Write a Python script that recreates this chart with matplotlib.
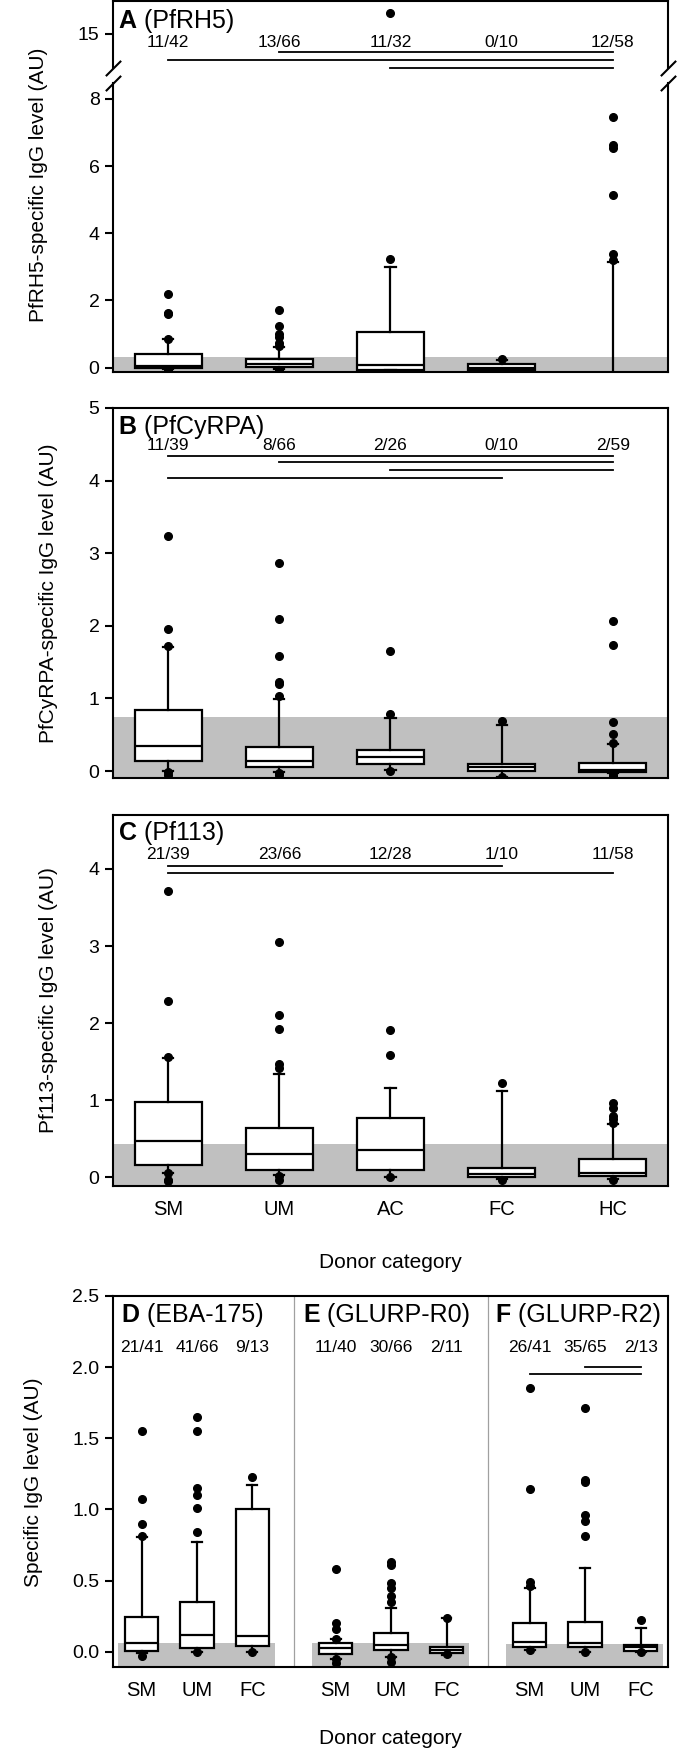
import matplotlib
matplotlib.use('Agg')
import matplotlib.pyplot as plt
from matplotlib.ticker import FormatStrFormatter

plt.rcParams['font.family'] = ['Liberation Sans', 'DejaVu Sans']

# --- data ---
# box stats per group: (whislo, q1, med, q3, whishi)
cats5 = ['SM', 'UM', 'AC', 'FC', 'HC']
cats3 = ['SM', 'UM', 'FC']

rh5_box = [(-0.05, 0.0, 0.05, 0.40, 0.85),
           (-0.04, 0.02, 0.10, 0.25, 0.60),
           (-0.08, -0.06, 0.08, 1.05, 3.0),
           (-0.08, -0.06, 0.0, 0.12, 0.23),
           (-0.3, -0.3, -0.3, -0.25, 3.14)]
rh5_out = [[2.19, 1.64, 1.60, 0.86, -0.07],
           [1.72, 1.25, 0.99, 0.92, 0.73, 0.63, -0.06],
           [3.23, 15.63],
           [0.25],
           [3.20, 3.37, 5.15, 6.54, 6.63, 7.45]]
rh5_frac = ['11/42', '13/66', '11/32', '0/10', '12/58']
rh5_cut = 0.32
rh5_sig = [(2, 5, 14.46), (1, 5, 14.22), (3, 5, 13.98)]

cyrpa_box = [(0.0, 0.14, 0.35, 0.84, 1.71),
             (-0.01, 0.05, 0.14, 0.33, 0.99),
             (0.02, 0.10, 0.19, 0.29, 0.73),
             (-0.08, 0.0, 0.05, 0.097, 0.63),
             (-0.03, -0.02, 0.01, 0.11, 0.37)]
cyrpa_out = [[3.24, 1.96, 1.72, -0.02, -0.06],
             [2.87, 2.09, 1.59, 1.23, 1.20, 1.03, -0.03, -0.05],
             [1.66, 0.78, 0.0],
             [0.69, -0.08],
             [2.07, 1.74, 0.67, 0.51, 0.39, -0.05, -0.07]]
cyrpa_frac = ['11/39', '8/66', '2/26', '0/10', '2/59']
cyrpa_cut = 0.74
cyrpa_sig = [(1, 5, 4.34), (2, 5, 4.25), (3, 5, 4.15), (1, 4, 4.04)]

pf113_box = [(0.05, 0.156, 0.47, 0.98, 1.55),
             (0.03, 0.095, 0.30, 0.64, 1.34),
             (0.0, 0.09, 0.35, 0.77, 1.16),
             (-0.02, 0.0, 0.04, 0.12, 1.12),
             (-0.02, 0.015, 0.055, 0.235, 0.69)]
pf113_out = [[3.72, 2.29, 1.56, 0.05, -0.03, -0.05],
             [3.05, 2.11, 1.93, 1.47, 1.42, 0.02, -0.03],
             [1.91, 1.58, 0.0],
             [1.22, -0.03],
             [0.96, 0.90, 0.80, 0.75, 0.70, -0.03]]
pf113_frac = ['21/39', '23/66', '12/28', '1/10', '11/58']
pf113_cut = 0.43
pf113_sig = [(1, 4, 4.04), (1, 5, 3.95)]

# panels D, E, F (SM, UM, FC each)
def_pos = [1, 2, 3, 4.5, 5.5, 6.5, 8, 9, 10]
def_titles = [('D', '(EBA-175)'), ('E', '(GLURP-R0)'), ('F', '(GLURP-R2)')]
def_box = [(-0.01, 0.005, 0.059, 0.244, 0.805),
           (0.0, 0.024, 0.12, 0.35, 0.77),
           (0.0, 0.04, 0.11, 1.005, 1.17),
           (-0.053, -0.016, 0.025, 0.063, 0.089),
           (-0.035, 0.012, 0.047, 0.134, 0.31),
           (-0.023, -0.007, 0.014, 0.035, 0.235),
           (0.01, 0.035, 0.07, 0.20, 0.45),
           (0.0, 0.03, 0.063, 0.207, 0.587),
           (0.0, 0.007, 0.03, 0.047, 0.164)]
def_out = [[1.55, 1.07, 0.90, 0.81, -0.03],
           [1.65, 1.55, 1.15, 1.10, 1.01, 0.84, 0.0],
           [1.23, 0.0],
           [0.58, 0.20, 0.157, 0.09, -0.05, -0.08],
           [0.63, 0.61, 0.48, 0.45, 0.39, 0.35, -0.04, -0.07],
           [0.24, -0.02],
           [1.85, 1.14, 0.49, 0.46, 0.01],
           [1.71, 1.21, 1.19, 0.96, 0.92, 0.81, 0.0],
           [0.22, 0.0]]
def_frac = ['21/41', '41/66', '9/13', '11/40', '30/66', '2/11', '26/41', '35/65', '2/13']
def_cut = [0.06, 0.06, 0.055]
def_sig = [(9, 10, 2.0), (8, 10, 1.95)]

# --- layout ---
W, H = 700, 1748
fig = plt.figure(figsize=(W / 100, H / 100), dpi=100)
GRAY = '#c0c0c0'
LW = 1.6


def rect(top, bottom, left=112.7, right=668.3):
    return [left / W, 1 - bottom / H, (right - left) / W, (bottom - top) / H]


def make_stats(rows, outs):
    return [dict(whislo=r[0], q1=r[1], med=r[2], q3=r[3], whishi=r[4], fliers=o)
            for r, o in zip(rows, outs)]


def draw_boxes(ax, pos, st, capw):
    ax.bxp(st, positions=pos, widths=0.6, patch_artist=True, capwidths=capw,
           manage_ticks=False,
           boxprops=dict(facecolor='white', edgecolor='black', linewidth=LW),
           medianprops=dict(color='black', linewidth=LW),
           whiskerprops=dict(color='black', linewidth=LW),
           capprops=dict(color='black', linewidth=LW),
           flierprops=dict(marker='o', markerfacecolor='black',
                           markeredgecolor='black', markersize=5.5))


def style(ax, xticks=None, xlabels=None):
    for s in ax.spines.values():
        s.set_linewidth(1.5)
    ax.tick_params(axis='y', length=5.5, width=1.5, labelsize=14, pad=4)
    if xticks is None:
        ax.set_xticks([])
    else:
        ax.set_xticks(xticks)
        ax.set_xticklabels(xlabels)
        ax.tick_params(axis='x', length=0, labelsize=14.5, pad=10)


def title(ax, x, y, letter, name):
    t = ax.text(x, y, letter, fontsize=18, fontweight='bold', ha='left', va='center')
    ax.annotate(' ' + name, xy=(1, 0), xycoords=t, ha='left', va='bottom', fontsize=18)


def fractions(ax, pos, fracs, y):
    for p, f in zip(pos, fracs):
        ax.text(p, y, f, ha='center', va='center', fontsize=12.5)


def sig_lines(ax, sig):
    for a, b, y in sig:
        ax.plot([a, b], [y, y], color='black', lw=1.3, clip_on=False)


pos5 = [1, 2, 3, 4, 5]

# Panel A: broken axis
axA_hi = fig.add_axes(rect(1, 68))
axA_lo = fig.add_axes(rect(82.5, 372))
for ax in (axA_hi, axA_lo):
    draw_boxes(ax, pos5, make_stats(rh5_box, rh5_out), 0.09)
    ax.set_xlim(0.5, 5.5)
    style(ax)
axA_lo.axhspan(-1, rh5_cut, color=GRAY, lw=0, zorder=0)
axA_hi.set_ylim(13.99, 15.98)
axA_lo.set_ylim(-0.13, 8.49)
axA_hi.set_yticks([15])
axA_lo.set_yticks([0, 2, 4, 6, 8])
axA_hi.spines['bottom'].set_visible(False)
axA_lo.spines['top'].set_visible(False)
kw = dict(marker=[(-1, -1), (1, 1)], markersize=11, linestyle='none',
          color='k', mec='k', mew=1.5, clip_on=False)
axA_hi.plot([0, 1], [0, 0], transform=axA_hi.transAxes, **kw)
axA_lo.plot([0, 1], [1, 1], transform=axA_lo.transAxes, **kw)
title(axA_hi, 0.554, 15.39, 'A', '(PfRH5)')
fractions(axA_hi, pos5, rh5_frac, 14.76)
sig_lines(axA_hi, rh5_sig)
fig.text(39 / W, 1 - 185 / H, 'PfRH5-specific IgG level (AU)', rotation=90,
         ha='center', va='center', fontsize=15)

# Panel B
axB = fig.add_axes(rect(408, 778.3))
axB.axhspan(-1, cyrpa_cut, color=GRAY, lw=0, zorder=0)
draw_boxes(axB, pos5, make_stats(cyrpa_box, cyrpa_out), 0.09)
axB.set_xlim(0.5, 5.5)
axB.set_ylim(-0.1, 5.0)
axB.set_yticks([0, 1, 2, 3, 4, 5])
style(axB)
title(axB, 0.554, 4.74, 'B', '(PfCyRPA)')
fractions(axB, pos5, cyrpa_frac, 4.49)
sig_lines(axB, cyrpa_sig)
fig.text(49 / W, 1 - 593 / H, 'PfCyRPA-specific IgG level (AU)', rotation=90,
         ha='center', va='center', fontsize=15)

# Panel C
axC = fig.add_axes(rect(815, 1186))
axC.axhspan(-1, pf113_cut, color=GRAY, lw=0, zorder=0)
draw_boxes(axC, pos5, make_stats(pf113_box, pf113_out), 0.09)
axC.set_xlim(0.5, 5.5)
axC.set_ylim(-0.113, 4.70)
axC.set_yticks([0, 1, 2, 3, 4])
style(axC, pos5, cats5)
title(axC, 0.554, 4.47, 'C', '(Pf113)')
fractions(axC, pos5, pf113_frac, 4.19)
sig_lines(axC, pf113_sig)
fig.text(49 / W, 1 - 1000 / H, 'Pf113-specific IgG level (AU)', rotation=90,
         ha='center', va='center', fontsize=15)
fig.text(390.5 / W, 1 - 1262 / H, 'Donor category', ha='center', va='center', fontsize=15)

# Panels D, E, F
axD = fig.add_axes(rect(1296, 1667.3))
for i in range(3):
    grp = def_pos[3 * i:3 * i + 3]
    axD.fill_between([grp[0] - 0.42, grp[-1] + 0.4], -1, def_cut[i],
                     color=GRAY, lw=0, zorder=0)
draw_boxes(axD, def_pos, make_stats(def_box, def_out), 0.18)
for xs in (3.75, 7.25):
    axD.axvline(xs, color='#a0a0a0', lw=0.9, zorder=0.5)
axD.set_xlim(0.48, 10.5)
axD.set_ylim(-0.11, 2.5)
axD.set_yticks([0, 0.5, 1.0, 1.5, 2.0, 2.5])
axD.yaxis.set_major_formatter(FormatStrFormatter('%.1f'))
style(axD, def_pos, cats3 * 3)
for (letter, name), x0 in zip(def_titles, [0.64, 3.92, 7.38]):
    title(axD, x0, 2.365, letter, name)
fractions(axD, def_pos, def_frac, 2.14)
sig_lines(axD, def_sig)
fig.text(33.5 / W, 1 - 1482 / H, 'Specific IgG level (AU)', rotation=90,
         ha='center', va='center', fontsize=15)
fig.text(390.5 / W, 1 - 1739 / H, 'Donor category', ha='center', va='center', fontsize=15)

fig.savefig('out.png', dpi=100)
